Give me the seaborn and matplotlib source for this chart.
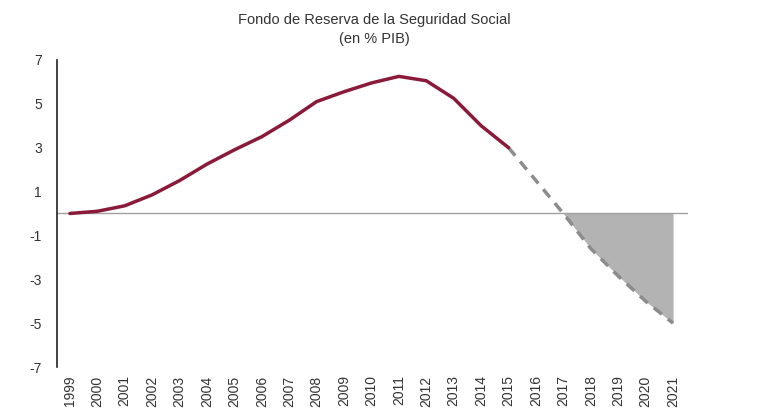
import pandas as pd
import seaborn as sns
import matplotlib.pyplot as plt

years_hist = list(range(1999, 2016))
fondo_hist = [0.0, 0.1, 0.35, 0.85, 1.5, 2.25, 2.9, 3.5, 4.25, 5.1, 5.55,
              5.95, 6.25, 6.05, 5.25, 4.0, 3.0]

years_proj = list(range(2015, 2022))
fondo_proj = [3.0, 1.5, 0.0, -1.6, -2.85, -4.0, -5.0]

hist = pd.DataFrame({'year': years_hist, 'value': fondo_hist})
proj = pd.DataFrame({'year': years_proj, 'value': fondo_proj})

sns.set_style('white')
plt.rcParams['font.family'] = ['Liberation Sans', 'DejaVu Sans']

fig = plt.figure(figsize=(7.84, 4.19), dpi=100)
ax = fig.add_axes([0.0727, 0.124, 0.805, 0.733])

neg = proj[proj['value'] <= 0]
ax.fill_between(neg['year'], neg['value'], 0, color='#b3b3b3', lw=0, zorder=1)
ax.axhline(0, color='#a0a0a0', lw=1, zorder=2)

sns.lineplot(data=proj, x='year', y='value', ax=ax, color='#8c8c8c',
             lw=2.5, linestyle=(0, (3, 2.2)), zorder=3)
sns.lineplot(data=hist, x='year', y='value', ax=ax, color='#8b1a3a',
             lw=2.5, zorder=4)

ax.set_xlim(1998.53, 2021.55)
ax.set_ylim(-7, 7)
ax.set_yticks([7, 5, 3, 1, -1, -3, -5, -7])
ax.set_yticklabels(['7', '5', '3', '1', '-1', '-3', '-5', '-7'])
ax.set_xticks(list(range(1999, 2022)))
ax.set_xticklabels([str(y) for y in range(1999, 2022)], rotation=90)
ax.tick_params(axis='both', length=0, labelsize=10, colors='#333333')
ax.tick_params(axis='y', pad=11)
ax.tick_params(axis='x', pad=6)
ax.set_xlabel('')
ax.set_ylabel('')
for s in ['top', 'right', 'bottom']:
    ax.spines[s].set_visible(False)
ax.spines['left'].set_color('#222222')
ax.spines['left'].set_linewidth(1.2)

fig.text(0.478, 0.968, 'Fondo de Reserva de la Seguridad Social\n(en % PIB)',
         ha='center', va='top', fontsize=10.5, color='#333333', linespacing=1.45)

fig.savefig('out.png', dpi=100)
